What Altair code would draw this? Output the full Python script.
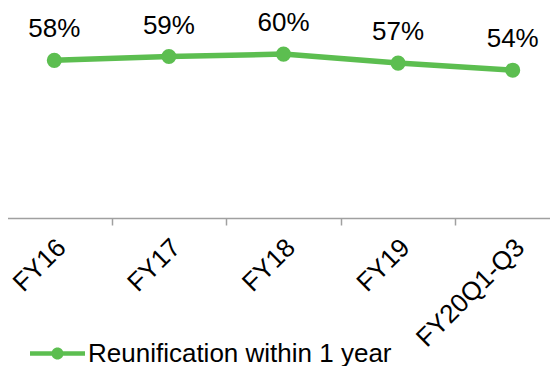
import altair as alt
import pandas as pd

categories = ["FY16", "FY17", "FY18", "FY19", "FY20Q1-Q3"]
values = [0.578, 0.592, 0.601, 0.568, 0.542]
series_name = "Reunification within 1 year"
GREEN = "#5cbe50"
FONT = "Liberation Sans"

df = pd.DataFrame({"period": categories, "rate": values, "series": [series_name] * len(categories)})

LEGEND_SYMBOL = ("M-1,-0.085H1V0.085H-1Z "
                 "M-0.22,0A0.22,0.22,0,1,1,0.22,0A0.22,0.22,0,1,1,-0.22,0Z")

x = alt.X(
    "period:N", sort=categories, title=None,
    scale=alt.Scale(type="band", range=[-11, 562], paddingInner=0, paddingOuter=0),
    axis=alt.Axis(labelAngle=-45, labelAlign="right", labelBaseline="middle",
                  labelFont=FONT, labelFontSize=26, labelColor="#000000",
                  labelPadding=18, labelOffset=7, tickSize=7, tickBand="extent",
                  domainColor="#a0a0a0", tickColor="#a0a0a0", domainWidth=1.5,
                  tickWidth=1.5, grid=False, labelLimit=0),
)
y = alt.Y("rate:Q", scale=alt.Scale(domain=[0, 0.77], nice=False, zero=True), axis=None)

base = alt.Chart(df).encode(x=x, y=y)
line = base.mark_line(color=GREEN, strokeWidth=5.5)
points = base.mark_point(filled=True, size=227, opacity=1, shape="circle").encode(
    color=alt.Color("series:N", title=None,
                    scale=alt.Scale(domain=[series_name], range=[GREEN]),
                    legend=alt.Legend(orient="none", legendX=22, legendY=318,
                                      symbolType=LEGEND_SYMBOL, symbolSize=3025,
                                      symbolStrokeWidth=0, symbolOpacity=1,
                                      labelFont=FONT, labelFontSize=26,
                                      labelColor="#000000", labelOffset=3,
                                      padding=0, labelLimit=0))
)
labels = base.mark_text(baseline="alphabetic", dy=-23, font=FONT, fontSize=26,
                        color="#000000").encode(text=alt.Text("rate:Q", format=".0%"))

chart = alt.layer(line, points, labels).properties(
    width=542, height=210,
    autosize=alt.AutoSizeParams(type="none"),
    padding={"left": 0, "top": 0, "right": 0, "bottom": 148},
).configure_view(stroke=None)

chart.save("out.html", embed_options={"renderer": "svg", "actions": False})
